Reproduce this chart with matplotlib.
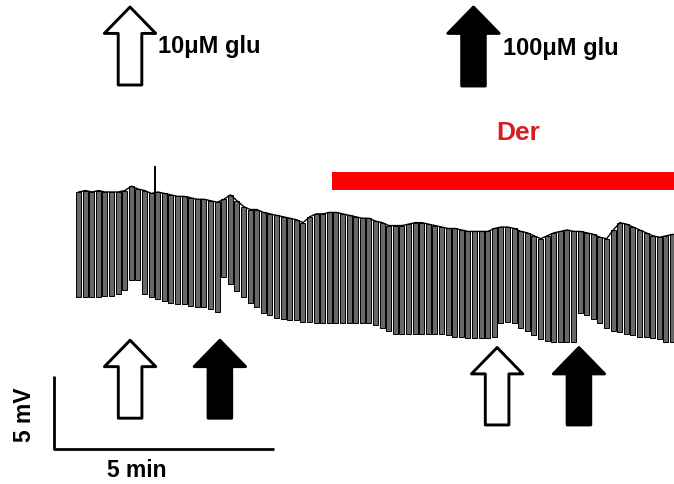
import matplotlib.pyplot as plt
import numpy as np
from matplotlib.patches import Rectangle

plt.rcParams["font.family"] = ["Liberation Sans", "DejaVu Sans"]

# membrane potential (mV) before and at the end of each hyperpolarizing pulse
PULSE_INTERVAL_MIN = 0.15
RESTING_MV = [
    -48.0, -47.9, -48.0, -47.9, -48.0, -48.0, -48.0, -47.9, -47.6, -47.8,
    -47.9, -48.1, -48.0, -48.1, -48.2, -48.3, -48.3, -48.4, -48.5, -48.5,
    -48.6, -48.7, -48.5, -48.2, -48.6, -49.0, -49.2, -49.2, -49.4, -49.5,
    -49.6, -49.7, -49.8, -49.9, -50.1, -49.7, -49.5, -49.5, -49.4, -49.4,
    -49.5, -49.6, -49.7, -49.8, -49.8, -50.0, -50.1, -50.3, -50.3, -50.3,
    -50.2, -50.1, -50.1, -50.2, -50.3, -50.4, -50.5, -50.5, -50.6, -50.7,
    -50.7, -50.7, -50.7, -50.5, -50.4, -50.4, -50.5, -50.7, -50.8, -51.0,
    -51.2, -51.0, -50.8, -50.7, -50.6, -50.7, -50.7, -50.8, -50.9, -51.1,
    -51.2, -50.6, -50.1, -50.2, -50.4, -50.6, -50.8, -51.0, -51.1, -51.0,
    -50.9,
]
PULSE_MV = [
    -55.2, -55.2, -55.2, -55.2, -55.1, -55.1, -55.0, -54.7, -54.0, -54.0,
    -55.0, -55.2, -55.3, -55.5, -55.6, -55.7, -55.7, -55.8, -55.9, -55.9,
    -56.0, -56.2, -53.8, -54.3, -54.8, -55.2, -55.6, -55.9, -56.3, -56.4,
    -56.6, -56.7, -56.8, -56.8, -56.9, -56.9, -57.0, -57.0, -57.0, -57.0,
    -57.0, -57.0, -57.0, -57.0, -57.0, -57.1, -57.3, -57.5, -57.7, -57.7,
    -57.7, -57.7, -57.7, -57.7, -57.7, -57.7, -57.8, -57.9, -57.9, -58.0,
    -58.0, -58.0, -58.0, -57.9, -57.0, -56.9, -57.0, -57.3, -57.5, -57.8,
    -58.1, -58.2, -58.3, -58.3, -58.3, -58.3, -56.3, -56.4, -56.7, -57.0,
    -57.3, -57.5, -57.6, -57.7, -57.8, -57.9, -57.9, -58.0, -58.1, -58.3,
    -58.3,
]
SPIKE_INDEX = 12
SPIKE_PEAK_MV = -46.3

GLU_10_MIN = [1.23, 9.57]
GLU_100_MIN = [3.27, 11.43]
DER_START_MIN = 5.82
DER_END_MIN = 13.6

SCALE_ORIGIN = (-0.5, -65.6)
SCALE_MIN = 5
SCALE_MV = 5


def draw_arrow(ax, x, y_tip, y_tail, filled, coords):
    ax.annotate(
        "",
        xy=(x, y_tip),
        xytext=(x, y_tail),
        xycoords=coords,
        textcoords=coords,
        arrowprops=dict(
            arrowstyle="simple,head_length=19,head_width=37,tail_width=17",
            mutation_scale=1,
            shrinkA=0,
            shrinkB=0,
            fc="black" if filled else "white",
            ec="black",
            lw=2.1,
        ),
    )


def main() -> None:
    resting = np.array(RESTING_MV)
    pulse = np.array(PULSE_MV)
    t = np.arange(len(resting)) * PULSE_INTERVAL_MIN

    fig = plt.figure(figsize=(6.74, 4.84), dpi=100)
    ax = fig.add_axes([0, 0, 1, 1])
    ax.set_xlim(-1.727, 13.59)
    ax.set_ylim(-68.0, -34.85)
    ax.axis("off")

    # trace: one bar per pulse
    ax.bar(
        t,
        resting - pulse,
        bottom=pulse,
        width=0.115,
        align="edge",
        color="#686868",
        edgecolor="black",
        linewidth=0.7,
    )
    ax.plot(t + 0.06, resting, color="black", lw=1.0)
    ax.plot(
        [t[SPIKE_INDEX], t[SPIKE_INDEX]],
        [resting[SPIKE_INDEX], SPIKE_PEAK_MV],
        color="black",
        lw=1.4,
    )

    # drug application bar
    ax.add_patch(
        Rectangle(
            (DER_START_MIN, 0.6074),
            DER_END_MIN - DER_START_MIN,
            0.0372,
            transform=ax.get_xaxis_transform(),
            color="#ff0000",
            lw=0,
        )
    )
    ax.text(0.7685, 0.7252, "Der", transform=ax.transAxes, color="#dc1a22",
            fontsize=19, fontweight="bold", ha="center", va="center")

    # legend arrows
    draw_arrow(ax, 0.1929, 0.9855, 0.8244, False, "axes fraction")
    draw_arrow(ax, 0.7025, 0.9855, 0.8223, True, "axes fraction")
    ax.text(0.2344, 0.9029, "10\u03bcM glu", transform=ax.transAxes,
            fontsize=17, fontweight="bold", ha="left", va="center")
    ax.text(0.7463, 0.8988, "100\u03bcM glu", transform=ax.transAxes,
            fontsize=17, fontweight="bold", ha="left", va="center")

    # application arrows under the trace
    coords = ("data", "axes fraction")
    tips = [(0.297, 0.136), (0.282, 0.122)]
    for k, (t10, t100) in enumerate(zip(GLU_10_MIN, GLU_100_MIN)):
        tip, tail = tips[k]
        draw_arrow(ax, t10, tip, tail, False, coords)
        draw_arrow(ax, t100, tip, tail, True, coords)

    # scale bars
    x0, y0 = SCALE_ORIGIN
    ax.plot([x0, x0, x0 + SCALE_MIN], [y0 + SCALE_MV, y0, y0],
            color="black", lw=2.0, solid_capstyle="butt")
    ax.text(0.7, y0 - 1.45, f"{SCALE_MIN} min", fontsize=16.5,
            fontweight="bold", ha="left", va="center")
    ax.text(-1.16, -63.27, f"{SCALE_MV} mV", fontsize=16.5,
            fontweight="bold", rotation=90, ha="center", va="center")

    fig.savefig("out.png", dpi=100)


if __name__ == "__main__":
    main()
